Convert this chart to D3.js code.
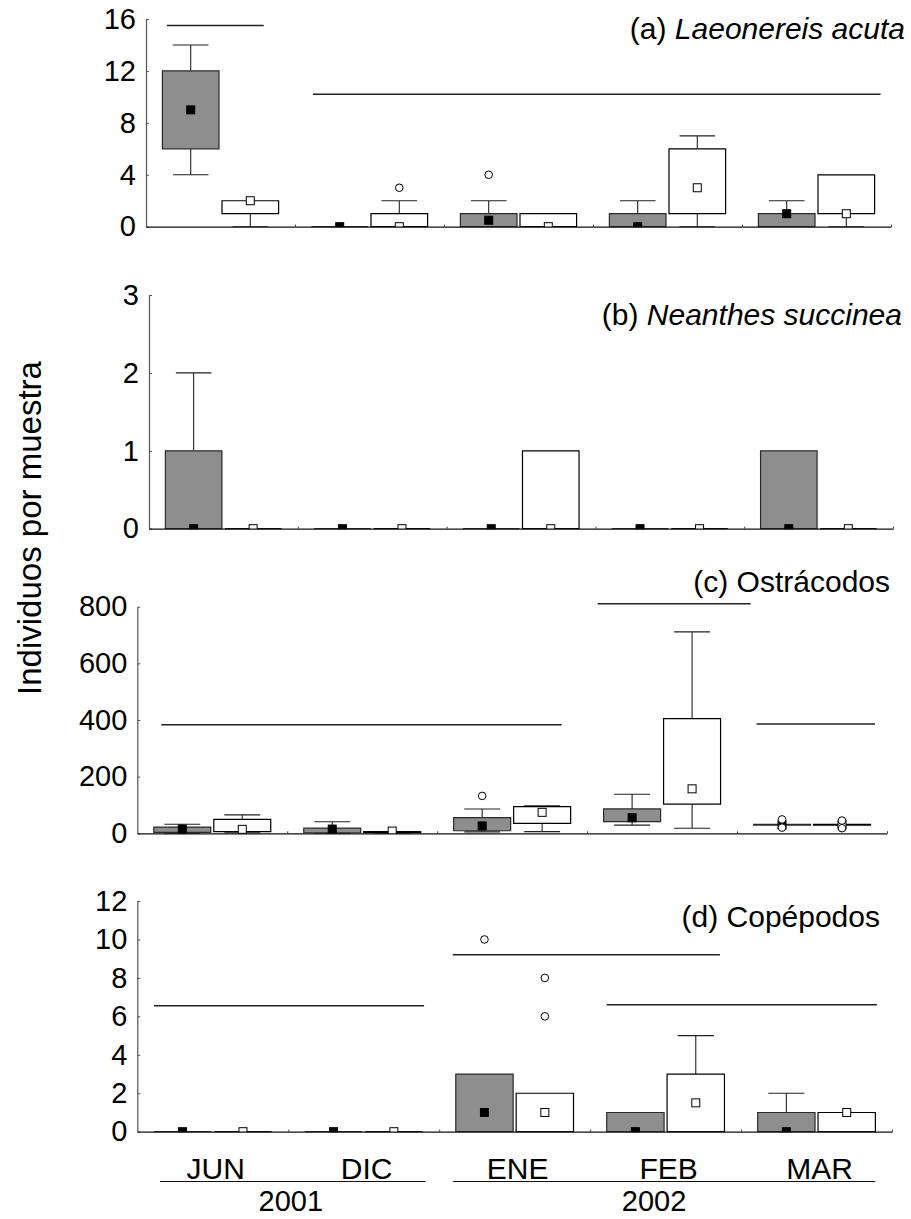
<!DOCTYPE html>
<html>
<head>
<meta charset="utf-8">
<script src="https://cdn.jsdelivr.net/npm/d3@7"></script>
<style>
body { margin: 0; background: #fff; }
text { font-family: "Liberation Sans", Arial, sans-serif; fill: #000; }
</style>
</head>
<body>
<script>
// sampling months and the two treatments (gray / white boxes)
var months = ["JUN", "DIC", "ENE", "FEB", "MAR"];
var series = ["gris", "blanco"];
var years = ["2001", "2002"];

// box rows: [month, series, q1, q3, min, max, central marker, outliers]
var laeonereis = [
    ["JUN", "gris", 6, 12, 4, 14, 9, []],
    ["JUN", "blanco", 1, 2, 0, 2, 2, []],
    ["DIC", "gris", 0, 0, 0, 0, 0, []],
    ["DIC", "blanco", 0, 1, 0, 2, 0, [3]],
    ["ENE", "gris", 0, 1, 0, 2, 0.5, [4]],
    ["ENE", "blanco", 0, 1, 0, 1, 0, []],
    ["FEB", "gris", 0, 1, 0, 2, 0, []],
    ["FEB", "blanco", 1, 6, 0, 7, 3, []],
    ["MAR", "gris", 0, 1, 0, 2, 1, []],
    ["MAR", "blanco", 1, 4, 0, 4, 1, []]
];
var neanthes = [
    ["JUN", "gris", 0, 1, 0, 2, 0, []],
    ["JUN", "blanco", 0, 0, 0, 0, 0, []],
    ["DIC", "gris", 0, 0, 0, 0, 0, []],
    ["DIC", "blanco", 0, 0, 0, 0, 0, []],
    ["ENE", "gris", 0, 0, 0, 0, 0, []],
    ["ENE", "blanco", 0, 1, 0, 1, 0, []],
    ["FEB", "gris", 0, 0, 0, 0, 0, []],
    ["FEB", "blanco", 0, 0, 0, 0, 0, []],
    ["MAR", "gris", 0, 1, 0, 1, 0, []],
    ["MAR", "blanco", 0, 0, 0, 0, 0, []]
];
var ostracodos = [
    ["JUN", "gris", 3, 22, 0, 32, 15, []],
    ["JUN", "blanco", 6, 49, 2, 65, 14, []],
    ["DIC", "gris", 2, 18, 0, 41, 15, []],
    ["DIC", "blanco", 2, 6, 0, 6, 8, []],
    ["ENE", "gris", 9, 55, 5, 86, 26, [132]],
    ["ENE", "blanco", 35, 94, 6, 97, 74, []],
    ["FEB", "gris", 41, 86, 29, 138, 55, []],
    ["FEB", "blanco", 103, 405, 18, 711, 157, []],
    ["MAR", "gris", 29, 32, 29, 32, 30, [49, 20]],
    ["MAR", "blanco", 29, 32, 29, 32, 30, [45, 18]]
];
var copepodos = [
    ["JUN", "gris", 0, 0, 0, 0, 0, []],
    ["JUN", "blanco", 0, 0, 0, 0, 0, []],
    ["DIC", "gris", 0, 0, 0, 0, 0, []],
    ["DIC", "blanco", 0, 0, 0, 0, 0, []],
    ["ENE", "gris", 0, 3, 0, 3, 1, [10]],
    ["ENE", "blanco", 0, 2, 0, 2, 1, [8, 6]],
    ["FEB", "gris", 0, 1, 0, 1, 0, []],
    ["FEB", "blanco", 0, 3, 0, 5, 1.5, []],
    ["MAR", "gris", 0, 1, 0, 2, 0, []],
    ["MAR", "blanco", 0, 1, 0, 1, 1, []]
];

// horizontal bars over homogeneous groups: [from, to (in month units), value]
var barsA = [[0.14, 0.79, 15.5], [1.12, 4.93, 10.2]];
var barsB = [];
var barsC = [[0.16, 2.83, 383], [3.07, 4.09, 810], [4.13, 4.92, 386]];
var barsD = [[0.11, 1.90, 6.55], [2.09, 3.86, 9.2], [3.11, 4.90, 6.6]];

// y ticks per panel
var ticksA = [0, 4, 8, 12, 16];
var ticksB = [0, 1, 2, 3];
var ticksC = [0, 200, 400, 600, 800];
var ticksD = [0, 2, 4, 6, 8, 10, 12];

// panel titles
var tagA = "(a) ", nameA = "Laeonereis acuta";
var tagB = "(b) ", nameB = "Neanthes succinea";
var tagC = "(c) Ostrácodos", tagD = "(d) Copépodos";

// year underline spans (month units)
var yearSpans = [[0.15, 1.91], [2.09, 4.89]];

window.onload = setChart();

function setChart(){
    var width = 911,
        height = 1219;

    var svg = d3.select("body")
        .append("svg")
        .attr("width", width)
        .attr("height", height);

    var panels = [
        {rows: laeonereis, bars: barsA, ticks: ticksA, left: 146, right: 891, top: 19, bottom: 226.7,
         tag: tagA, name: nameA, tx: 905, ty: 39},
        {rows: neanthes, bars: barsB, ticks: ticksB, left: 149, right: 893, top: 295, bottom: 528.7,
         tag: tagB, name: nameB, tx: 902, ty: 325},
        {rows: ostracodos, bars: barsC, ticks: ticksC, left: 137.3, right: 887, top: 606.7, bottom: 833.3,
         tag: tagC, name: "", tx: 890, ty: 592},
        {rows: copepodos, bars: barsD, ticks: ticksD, left: 137.3, right: 892, top: 901, bottom: 1131.7,
         tag: tagD, name: "", tx: 880, ty: 927}
    ];

    var lastX, lastU;
    panels.forEach(function(p, i){
        var s = drawPanel(svg, p, i);
        lastX = s.x; lastU = s.u;
    });

    //month labels under the last panel
    svg.selectAll(".month")
        .data(months)
        .enter()
        .append("text")
        .attr("class", "month")
        .attr("x", function(d){ return lastX(d) + lastX.bandwidth() / 2 + 3; })
        .attr("y", 1179)
        .attr("text-anchor", "middle")
        .attr("font-size", 30)
        .text(function(d){ return d; });

    //year underlines and labels
    svg.selectAll(".yearline")
        .data(yearSpans)
        .enter()
        .append("line")
        .attr("x1", function(d){ return lastU(d[0]); })
        .attr("x2", function(d){ return lastU(d[1]); })
        .attr("y1", 1181.5)
        .attr("y2", 1181.5)
        .attr("stroke", "#111")
        .attr("stroke-width", 1.2);

    svg.selectAll(".year")
        .data(years)
        .enter()
        .append("text")
        .attr("x", function(d, i){ return (lastU(yearSpans[i][0]) + lastU(yearSpans[i][1])) / 2 - (i ? 10 : 2); })
        .attr("y", 1211)
        .attr("text-anchor", "middle")
        .attr("font-size", 29)
        .text(function(d){ return d; });

    //y axis title
    svg.append("text")
        .attr("transform", "translate(41,528) rotate(-90)")
        .attr("text-anchor", "middle")
        .attr("font-size", 33)
        .text("Individuos por muestra");
}

function drawPanel(svg, p, i){
    var x = d3.scaleBand()
        .domain(months)
        .range([p.left, p.right]);

    var xs = d3.scaleBand()
        .domain(series)
        .range([0, x.bandwidth()])
        .paddingInner(0.05)
        .paddingOuter(0.275);

    //continuous version of the month axis, for the group bars
    var u = d3.scaleLinear()
        .domain([0, months.length])
        .range([p.left, p.right]);

    var y = d3.scaleLinear()
        .domain([0, p.ticks[p.ticks.length - 1]])
        .range([p.bottom, p.top]);

    var bw = xs.bandwidth(),
        capW = bw * 0.63;

    //clip so markers sitting on zero only show their upper half
    svg.append("clipPath")
        .attr("id", "clip" + i)
        .append("rect")
        .attr("x", p.left)
        .attr("y", p.top - 40)
        .attr("width", p.right - p.left + 5)
        .attr("height", p.bottom - p.top + 40.6);

    var g = svg.append("g").attr("clip-path", "url(#clip" + i + ")");

    function cx(d){ return x(d[0]) + xs(d[1]) + bw / 2; }

    //whiskers
    g.selectAll(".whisk")
        .data(p.rows)
        .enter()
        .append("path")
        .attr("fill", "none")
        .attr("stroke", "#222")
        .attr("stroke-width", 1.1)
        .attr("d", function(d){
            var c = cx(d), s = "";
            if (d[5] > d[3]) {
                s += "M" + c + "," + y(d[3]) + "V" + y(d[5]);
                s += "M" + (c - capW / 2) + "," + y(d[5]) + "H" + (c + capW / 2);
            }
            if (d[4] < d[2]) {
                s += "M" + c + "," + y(d[2]) + "V" + y(d[4]);
                s += "M" + (c - capW / 2) + "," + y(d[4]) + "H" + (c + capW / 2);
            }
            return s || null;
        });

    //boxes
    g.selectAll(".box")
        .data(p.rows)
        .enter()
        .append("path")
        .attr("fill", function(d){ return d[1] == "gris" ? "#8e8e8e" : "#fff"; })
        .attr("stroke", function(d){ return d[1] == "gris" ? "#2a2a2a" : "#000"; })
        .attr("stroke-width", 1.2)
        .attr("d", function(d){
            var x0 = x(d[0]) + xs(d[1]), x1 = x0 + bw;
            return "M" + x0 + "," + y(d[3]) + "H" + x1 + "V" + y(d[2]) + "H" + x0 + "Z";
        });

    //central markers
    g.selectAll(".mark")
        .data(p.rows)
        .enter()
        .append("rect")
        .attr("x", function(d){ return cx(d) - 4; })
        .attr("y", function(d){ return y(d[6]) - 4; })
        .attr("width", 8)
        .attr("height", 8)
        .attr("fill", function(d){ return d[1] == "gris" ? "#000" : "#fff"; })
        .attr("stroke", "#000")
        .attr("stroke-width", 1);

    //outliers
    var outs = [];
    p.rows.forEach(function(d){
        d[7].forEach(function(v){ outs.push([cx(d), v]); });
    });
    g.selectAll(".out")
        .data(outs)
        .enter()
        .append("circle")
        .attr("cx", function(d){ return d[0]; })
        .attr("cy", function(d){ return y(d[1]); })
        .attr("r", 3.8)
        .attr("fill", "#fff")
        .attr("stroke", "#000")
        .attr("stroke-width", 1);

    //homogeneous group bars
    svg.selectAll(".bar" + i)
        .data(p.bars)
        .enter()
        .append("line")
        .attr("x1", function(d){ return u(d[0]); })
        .attr("x2", function(d){ return u(d[1]); })
        .attr("y1", function(d){ return y(d[2]); })
        .attr("y2", function(d){ return y(d[2]); })
        .attr("stroke", "#222")
        .attr("stroke-width", 1.5);

    //y axis, ticks pointing inwards
    var ya = svg.append("g")
        .attr("transform", "translate(" + p.left + ",0)")
        .call(d3.axisLeft(y).tickValues(p.ticks).tickFormat(d3.format("d"))
            .tickSizeInner(-3).tickSizeOuter(0).tickPadding(10));
    ya.attr("font-size", 29).attr("font-family", null);
    ya.select(".domain").attr("stroke", "#555").attr("stroke-width", 1.2);
    ya.selectAll(".tick line").attr("stroke", "#555");
    ya.selectAll(".tick text").attr("fill", "#000");

    //x axis with small marks between months
    var xa = svg.append("g")
        .attr("transform", "translate(0," + p.bottom + ")")
        .call(d3.axisBottom(u).tickValues(d3.range(1, months.length + 1)).tickSizeInner(-2).tickSizeOuter(0).tickFormat(""));
    xa.select(".domain").attr("stroke", "#111").attr("stroke-width", 1.2);
    xa.selectAll(".tick line").attr("stroke", "#333");

    //panel title
    var t = svg.append("text")
        .attr("x", p.tx)
        .attr("y", p.ty)
        .attr("text-anchor", "end")
        .attr("font-size", 30);
    t.append("tspan").text(p.tag);
    if (p.name) t.append("tspan").attr("font-style", "italic").text(p.name);

    return {x: x, u: u};
}
</script>
</body>
</html>
